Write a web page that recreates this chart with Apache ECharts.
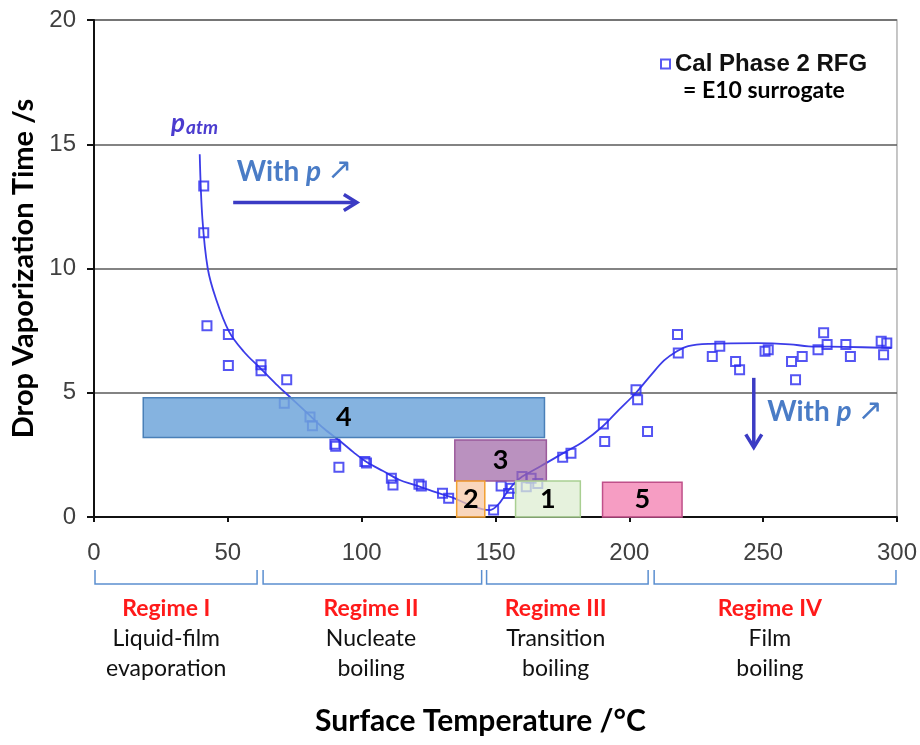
<!DOCTYPE html>
<html>
<head>
<meta charset="utf-8">
<script src="https://cdn.jsdelivr.net/npm/echarts@6/dist/echarts.min.js"></script>
<style>
  html, body { margin: 0; padding: 0; background: #fff; }
  #chart { width: 920px; height: 745px; }
</style>
</head>
<body>
<div id="chart"></div>
<script>
// measured drops (surface temperature, vaporization time)
const pointX = [41.0, 41.0, 42.2, 50.2, 50.2, 62.4, 62.4, 72.0, 71.1, 80.7, 81.6, 90.0, 90.3, 91.5,
  101.2, 101.8, 111.1, 111.7, 121.4, 122.3, 130.2, 132.5, 149.3, 152.1, 154.9, 155.9, 159.9, 161.5,
  163.3, 165.8, 175.1, 178.2, 190.3, 190.8, 202.5, 203.1, 206.8, 218.0, 218.3, 231.0, 233.8, 239.7,
  241.2, 250.7, 251.9, 260.6, 262.1, 264.6, 270.5, 272.6, 273.9, 280.9, 282.6, 294.1, 296.2, 295.0];
const pointY = [13.32, 11.44, 7.70, 7.34, 6.10, 6.13, 5.89, 5.52, 4.58, 4.02, 3.67, 2.93, 2.85, 2.00,
  2.23, 2.17, 1.56, 1.29, 1.32, 1.25, 0.96, 0.75, 0.28, 1.25, 0.95, 1.16, 1.63, 1.22,
  1.56, 1.35, 2.40, 2.57, 3.74, 3.04, 5.12, 4.72, 3.44, 7.34, 6.60, 6.46, 6.87, 6.26,
  5.93, 6.67, 6.73, 6.26, 5.52, 6.46, 6.73, 7.41, 6.94, 6.94, 6.46, 7.07, 7.00, 6.53];

// fitted curve
const curveX = [39.5, 40.5, 42.5, 45.5, 50.5, 56, 62, 68, 73, 80, 86, 92, 97, 102, 108, 114, 120, 127,
  134, 140, 145, 148, 151, 154, 157, 160, 167, 175, 183, 190, 196, 202.5, 208, 213, 217.5, 222, 230,
  248, 260, 267, 280, 298];
const curveY = [14.6, 12.0, 10.0, 8.8, 7.45, 6.65, 6.0, 5.35, 4.85, 4.15, 3.55, 3.05, 2.6, 2.2, 1.85,
  1.5, 1.28, 1.02, 0.78, 0.5, 0.32, 0.28, 0.5, 0.95, 1.35, 1.63, 2.05, 2.55, 3.05, 3.64, 4.3, 5.0,
  5.7, 6.3, 6.65, 6.88, 6.97, 7.0, 6.95, 6.87, 6.85, 6.8];

// numbered boxes
const boxNames = ['4', '3', '2', '1', '5'];
const boxX0 = [18.4, 134.8, 135.5, 157.5, 190.0];
const boxX1 = [168.3, 169.0, 146.0, 181.7, 219.7];
const boxY0 = [3.2, 1.45, 0, 0, 0];
const boxY1 = [4.8, 3.1, 1.45, 1.45, 1.4];

// axis ticks
const xTicks = [0, 50, 100, 150, 200, 250, 300];
const yTicks = [0, 5, 10, 15, 20];

// regimes under the x axis
const regimeNames = ['Regime I', 'Regime II', 'Regime III', 'Regime IV'];
const regimeText = ['Liquid-film\nevaporation', 'Nucleate\nboiling', 'Transition\nboiling', 'Film\nboiling'];
const regimeFrom = [0, 62.8, 146.3, 208.9];
const regimeTo = [61.3, 145.2, 207.4, 300];
const regimeMid = [27, 103.5, 172.5, 252.5];

const boxFill = ['rgba(112,166,218,0.85)', 'rgba(160,102,166,0.72)', 'rgba(247,200,166,0.75)',
  'rgba(222,238,210,0.75)', 'rgba(245,140,185,0.85)'];
const boxLine = ['#4a80b8', '#9b5a9b', '#f2a030', '#a9cf92', '#c0508a'];

const ARIAL = 'Liberation Sans, Arial, sans-serif';
const CALI = 'Lato, Open Sans, sans-serif';
const ARROW = '#3b3bc4';
const WITH = '#4a7cc6';

const chart = echarts.init(document.getElementById('chart'));

chart.setOption({
  animation: false,
  grid: { left: 94, right: 22, top: 20, bottom: 228, show: true, borderColor: '#b4b4b4', borderWidth: 1.5 },
  legend: {
    left: 655, top: 47, itemWidth: 9, itemHeight: 9, itemGap: 6,
    data: [{ name: 'Cal Phase 2 RFG', icon: 'rect',
      itemStyle: { color: 'rgba(0,0,0,0)', borderColor: '#3030f0', borderWidth: 2 } }],
    textStyle: { fontFamily: ARIAL, fontWeight: 'bold', fontSize: 24, color: '#111' }
  },
  xAxis: {
    type: 'value', min: xTicks[0], max: xTicks[xTicks.length - 1], interval: 50,
    name: 'Surface Temperature /°C', nameLocation: 'middle', nameGap: 189,
    nameTextStyle: { fontFamily: CALI, fontWeight: 'bold', fontSize: 30, color: '#000', padding: [0, 30, 0, 0] },
    axisLine: { lineStyle: { color: '#111', width: 2 } },
    axisTick: { length: 5, lineStyle: { color: '#111', width: 2 } },
    axisLabel: { margin: 24, fontFamily: ARIAL, fontSize: 24, color: '#404040' },
    splitLine: { show: false }
  },
  yAxis: {
    type: 'value', min: yTicks[0], max: yTicks[yTicks.length - 1], interval: 5,
    name: 'Drop Vaporization Time /s', nameLocation: 'middle', nameGap: 50, nameRotate: 90,
    nameTextStyle: { fontFamily: CALI, fontWeight: 'bold', fontSize: 29, color: '#000' },
    axisLine: { show: true, lineStyle: { color: '#111', width: 2 } },
    axisTick: { show: true, length: 7, lineStyle: { color: '#111', width: 2 } },
    axisLabel: { margin: 18, fontFamily: ARIAL, fontSize: 24, color: '#404040' },
    splitLine: { lineStyle: { color: '#5a5a5a', width: 1.5 } }
  },
  series: [
    {
      type: 'line', name: 'fit', data: curveX.map((x, i) => [x, curveY[i]]),
      smooth: 0.35, showSymbol: false, z: 2,
      lineStyle: { color: '#3c3ce8', width: 1.8 }
    },
    {
      type: 'scatter', name: 'Cal Phase 2 RFG', data: pointX.map((x, i) => [x, pointY[i]]),
      symbol: 'rect', symbolSize: 9, z: 3,
      itemStyle: { color: 'rgba(0,0,0,0)', borderColor: '#2a2af0', borderWidth: 2 }
    },
    {
      type: 'custom', name: 'boxes', z: 4,
      data: boxNames.map((n, i) => [boxX0[i], boxX1[i], boxY0[i], boxY1[i], n]),
      renderItem: (params, api) => {
        const i = params.dataIndex;
        const p0 = api.coord([api.value(0), api.value(3)]);
        const p1 = api.coord([api.value(1), api.value(2)]);
        return {
          type: 'group',
          children: [
            { type: 'rect', shape: { x: p0[0], y: p0[1], width: p1[0] - p0[0], height: p1[1] - p0[1] },
              style: { fill: boxFill[i], stroke: boxLine[i], lineWidth: 1.5 } },
            { type: 'text', style: { text: boxNames[i], x: (p0[0] + p1[0]) / 2, y: (p0[1] + p1[1]) / 2,
              align: 'center', verticalAlign: 'middle', fontFamily: CALI, fontWeight: 'bold', fontSize: 27, fill: '#000' } }
          ]
        };
      }
    }
  ]
});

// annotations placed through the axes
const px = (x, y) => chart.convertToPixel('grid', [x, y]);
const g = [];

function arrow(a, b) {
  const dx = b[0] - a[0], dy = b[1] - a[1];
  const len = Math.hypot(dx, dy), ux = dx / len, uy = dy / len;
  const hl = 13, hw = 8;
  g.push({ type: 'line', shape: { x1: a[0], y1: a[1], x2: b[0] - ux * 1.5, y2: b[1] - uy * 1.5 },
    style: { stroke: ARROW, lineWidth: 3.5 } });
  g.push({ type: 'polyline', shape: { points: [
    [b[0] - ux * hl - uy * hw, b[1] - uy * hl + ux * hw], b,
    [b[0] - ux * hl + uy * hw, b[1] - uy * hl - ux * hw]] },
    style: { stroke: ARROW, lineWidth: 3.5, fill: null } });
}
arrow(px(52, 12.66), px(98.2, 12.66));
arrow(px(246.5, 5.6), px(246.5, 2.8));

function withP(x, y) {
  const p = px(x, y);
  g.push({ type: 'text', x: p[0], y: p[1], style: {
    text: '{a|With }{b|p }{c|↗}', verticalAlign: 'middle',
    rich: {
      a: { fontFamily: CALI, fontWeight: 'bold', fontSize: 28, fill: WITH },
      b: { fontFamily: CALI, fontWeight: 'bold', fontStyle: 'italic', fontSize: 28, fill: WITH },
      c: { fontFamily: 'DejaVu Sans', fontSize: 30, fill: WITH }
    } } });
}
withP(53.3, 13.9);
withP(251.5, 4.22);

const pa = px(28.8, 15.85);
g.push({ type: 'text', x: pa[0], y: pa[1], style: { text: 'p', verticalAlign: 'middle',
  fontFamily: CALI, fontWeight: 'bold', fontStyle: 'italic', fontSize: 26, fill: '#4b3ccf' } });
g.push({ type: 'text', x: pa[0] + 15, y: pa[1] + 5, style: { text: 'atm', verticalAlign: 'middle',
  fontFamily: CALI, fontWeight: 'bold', fontStyle: 'italic', fontSize: 19, fill: '#4b3ccf' } });

const e10 = px(250.3, 17.15);
g.push({ type: 'text', x: e10[0], y: e10[1], style: { text: '= E10 surrogate', align: 'center',
  verticalAlign: 'middle', fontFamily: CALI, fontWeight: 'bold', fontSize: 23, fill: '#000' } });

const base = px(0, 0)[1];
regimeNames.forEach((name, i) => {
  const a = px(regimeFrom[i], 0)[0], b = px(regimeTo[i], 0)[0], m = px(regimeMid[i], 0)[0];
  g.push({ type: 'polyline', shape: { points: [[a + 1, base + 53], [a + 1, base + 67], [b - 1, base + 67], [b - 1, base + 53]] },
    style: { stroke: '#5b8fd0', lineWidth: 1.5, fill: null } });
  g.push({ type: 'text', x: m, y: base + 92, style: { text: name, align: 'center', verticalAlign: 'middle',
    fontFamily: CALI, fontWeight: 'bold', fontSize: 23, fill: '#ff1a1a' } });
  g.push({ type: 'text', x: m, y: base + 107, style: { text: regimeText[i], align: 'center', verticalAlign: 'top',
    fontFamily: CALI, fontSize: 23, lineHeight: 30, fill: '#111' } });
});

chart.setOption({ graphic: g });
</script>
</body>
</html>
